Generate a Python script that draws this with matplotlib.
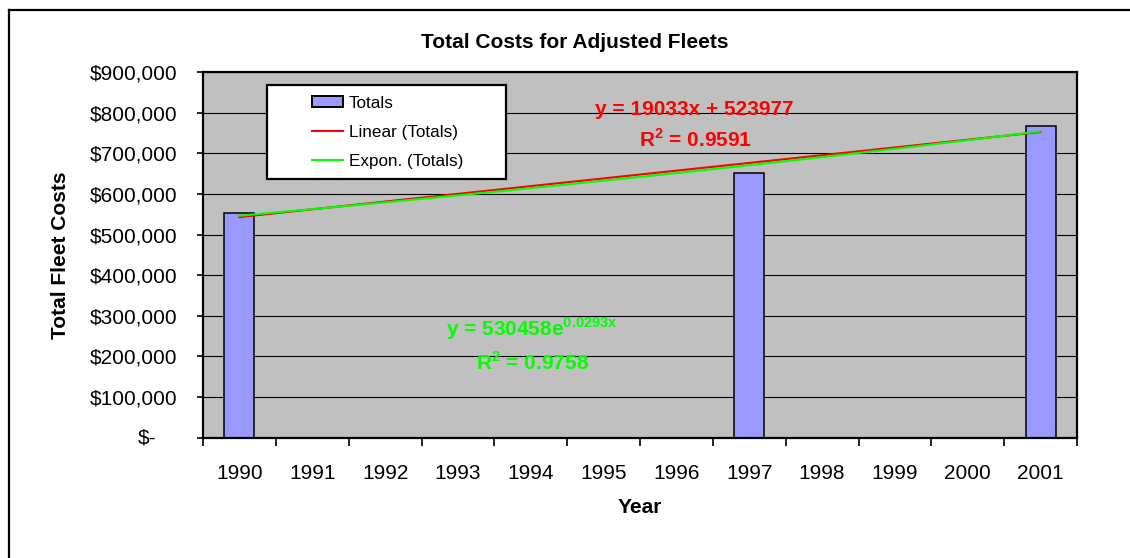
import numpy as np
import matplotlib

matplotlib.use("Agg")
import matplotlib.pyplot as plt
from matplotlib.lines import Line2D
from matplotlib.patches import Patch, Rectangle
from matplotlib.ticker import FuncFormatter

# category axis (Excel line/bar chart with one slot per year)
years = [1990, 1991, 1992, 1993, 1994, 1995, 1996, 1997, 1998, 1999, 2000, 2001]
bar_years = [1990, 1997, 2001]
totals = [552000, 651000, 768000]

# trendline parameters as printed on the chart
lin_slope = 19033
lin_intercept = 523977
lin_r2 = 0.9591
exp_coef = 530458
exp_rate = 0.0293
exp_r2 = 0.9758

y_ticks = [0, 100000, 200000, 300000, 400000, 500000, 600000, 700000, 800000, 900000]

plt.rcParams["font.family"] = ["Liberation Sans", "DejaVu Sans"]
plt.rcParams["mathtext.fontset"] = "custom"
plt.rcParams["mathtext.rm"] = "Liberation Sans"
plt.rcParams["mathtext.bf"] = "Liberation Sans:bold"

W, H = 1130, 558
fig = plt.figure(figsize=(W / 100, H / 100), dpi=100)
ax = fig.add_axes([203 / W, 1 - 437.7 / H, 874 / W, 365.7 / H])
ax.set_facecolor("#C0C0C0")

cat_x = np.arange(1, len(years) + 1)
bar_x = [cat_x[years.index(y)] for y in bar_years]

ax.bar(bar_x, totals, width=0.41, color="#9999FF", edgecolor="black",
       linewidth=1.1, zorder=2)

xs = np.linspace(cat_x[0], cat_x[-1], 200)
ax.plot(xs, lin_slope * xs + lin_intercept, color="#FF0000", lw=1.5, zorder=3)
ax.plot(xs, exp_coef * np.exp(exp_rate * xs), color="#00FF00", lw=1.5, zorder=3)

ax.set_xlim(0.5, len(years) + 0.5)
ax.set_ylim(0, 900000)
ax.set_yticks(y_ticks)
ax.yaxis.set_major_formatter(FuncFormatter(lambda v, p: "" if v == 0 else f"${v:,.0f}"))
ax.annotate("$-", xy=(0, 0), xycoords=("axes fraction", "data"),
            xytext=(-33.8, 0), textcoords="offset points",
            ha="right", va="center", fontsize=15)
ax.tick_params(axis="y", direction="out", length=4.3, width=1.2, pad=14, labelsize=15)
ax.grid(axis="y", color="black", lw=0.8)
ax.set_axisbelow(True)

ax.set_xticks(np.arange(0.5, len(years) + 1, 1))
ax.set_xticks(cat_x, labels=[str(y) for y in years], minor=True)
ax.tick_params(axis="x", which="major", direction="out", length=5.8, width=1.2,
               labelbottom=False)
ax.tick_params(axis="x", which="minor", length=0, pad=19, labelsize=15)

for s in ax.spines.values():
    s.set_linewidth(1.6)

ax.set_xlabel("Year", fontsize=15, fontweight="bold")
ax.xaxis.set_label_coords(0.5, -0.164)
ax.set_ylabel("Total Fleet Costs", fontsize=15, fontweight="bold")
ax.yaxis.set_label_coords(-0.1636, 0.5)
ax.yaxis.label.set_va("center")

fig.text(574.5 / W, 1 - 43 / H, "Total Costs for Adjusted Fleets",
         ha="center", va="center", fontsize=15, fontweight="bold")

# trendline equations
eq_style = dict(fontsize=15, fontweight="bold", ha="center", va="baseline", zorder=4)
ax.text(7.24, 794200, f"y = {lin_slope}x + {lin_intercept}", color="#FF0000", **eq_style)
ax.text(7.26, 714700, rf"R$^\mathbf{{2}}$ = {lin_r2}", color="#FF0000", **eq_style)
ax.text(5.02, 250200, rf"y = {exp_coef}e$^\mathbf{{{exp_rate}x}}$", color="#00FF00",
        **eq_style)
ax.text(5.02, 166600, rf"R$^\mathbf{{2}}$ = {exp_r2}", color="#00FF00", **eq_style)

# legend box drawn separately so the inner padding matches
ax.add_patch(Rectangle((267 / W, 1 - 179 / H), 239 / W, 94 / H,
                       transform=fig.transFigure, facecolor="white",
                       edgecolor="black", lw=1.6, clip_on=False, zorder=4.5))
handles = [
    Patch(facecolor="#9999FF", edgecolor="black", lw=1.4),
    Line2D([], [], color="#FF0000", lw=1.5),
    Line2D([], [], color="#00FF00", lw=1.5),
]
ax.legend(handles, ["Totals", "Linear (Totals)", "Expon. (Totals)"],
          loc="upper left", bbox_to_anchor=(312 / W, 1 - 95.5 / H),
          bbox_transform=fig.transFigure, frameon=False, fontsize=12.3,
          borderpad=0, borderaxespad=0, handlelength=1.81, handletextpad=0.35,
          labelspacing=0.82, handleheight=0.55)

# outer chart frame
fig.add_artist(Line2D([9 / W, 9 / W], [0, 1 - 10 / H], color="black", lw=1.6,
                      transform=fig.transFigure))
fig.add_artist(Line2D([9 / W, 1], [1 - 10 / H, 1 - 10 / H], color="black", lw=1.6,
                      transform=fig.transFigure))

fig.savefig("out.png", dpi=100)
